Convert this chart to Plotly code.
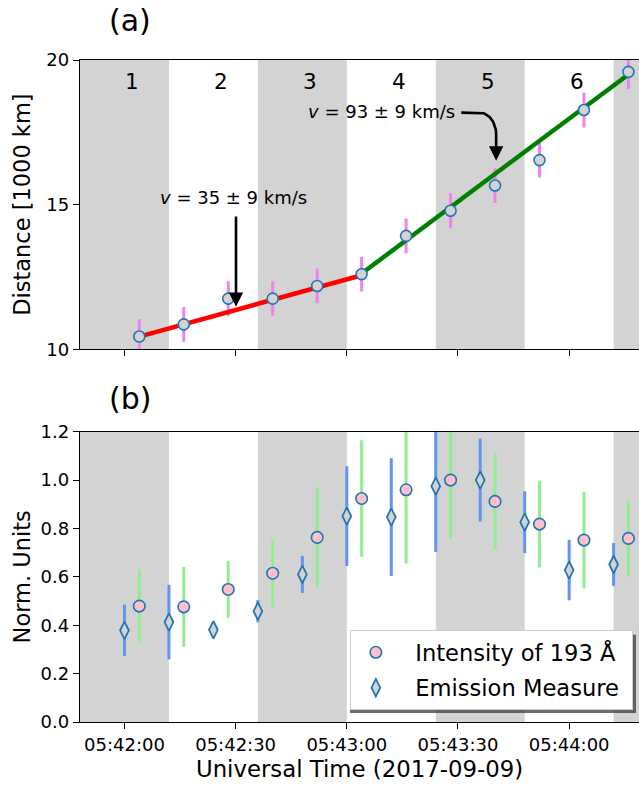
import numpy as np
import pandas as pd
import plotly.graph_objects as go
from plotly.subplots import make_subplots

# ---------------- DATA ----------------
t0 = pd.Timestamp("2017-09-09 05:42:00")

# panel (a): distance measurements (seconds after 05:42:00)
dist_sec = [4, 16, 28, 40, 52, 64, 76, 88, 100, 112, 124, 136]
distance = [10.44, 10.86, 11.75, 11.75, 12.19, 12.60, 13.92, 14.79, 15.66, 16.54, 18.27, 19.59]
dist_err = [0.6, 0.6, 0.6, 0.6, 0.6, 0.6, 0.6, 0.6, 0.6, 0.6, 0.6, 0.6]

# linear fits
red_sec = [4, 64]
red_dist = [10.44, 12.56]
green_sec = [64, 136]
green_dist = [12.62, 19.50]

# panel (b): intensity of 193 A
int_sec = [4, 16, 28, 40, 52, 64, 76, 88, 100, 112, 124, 136]
intensity = [0.479, 0.476, 0.548, 0.615, 0.763, 0.924, 0.960, 1.000, 0.912, 0.818, 0.752, 0.759]
int_err = [0.152, 0.165, 0.117, 0.141, 0.207, 0.241, 0.305, 0.241, 0.199, 0.179, 0.200, 0.156]

# panel (b): emission measure
em_sec = [0, 12, 24, 36, 48, 60, 72, 84, 96, 108, 120, 132]
emission = [0.379, 0.413, 0.381, 0.458, 0.610, 0.851, 0.847, 0.975, 1.000, 0.826, 0.628, 0.651]
em_err = [0.106, 0.154, 0.030, 0.046, 0.077, 0.206, 0.243, 0.272, 0.172, 0.128, 0.125, 0.089]

# shaded time bins (seconds after 05:42:00) and labels
band_edges = [-12, 12, 36, 60, 84, 108, 132, 156]
band_labels = ["1", "2", "3", "4", "5", "6"]
band_label_sec = [2, 26, 50, 74, 98, 122]

x_range_sec = [-12, 138.85]
xtick_sec = [0, 30, 60, 90, 120]


def T(s):
    return (t0 + pd.to_timedelta(np.asarray(s, dtype=float), unit="s")).strftime("%Y-%m-%d %H:%M:%S.%f")


def T1(s):
    return (t0 + pd.to_timedelta(float(s), unit="s")).strftime("%Y-%m-%d %H:%M:%S.%f")


FONT = "DejaVu Sans"
BLUE = "#1f77b4"
NB = "\u00a0\u00a0"

fig = make_subplots(rows=2, cols=1, shared_xaxes=False, vertical_spacing=0.0)

# ---- panel (a)
fig.add_trace(go.Scatter(
    x=T(dist_sec), y=distance, mode="markers",
    marker=dict(size=11, opacity=0),
    error_y=dict(type="data", array=dist_err, color="violet", thickness=3, width=0),
    showlegend=False, hoverinfo="skip"), row=1, col=1)
fig.add_trace(go.Scatter(x=T(red_sec), y=red_dist, mode="lines",
                         line=dict(color="red", width=4.5), showlegend=False), row=1, col=1)
fig.add_trace(go.Scatter(x=T(green_sec), y=green_dist, mode="lines",
                         line=dict(color="green", width=4.5), showlegend=False), row=1, col=1)
fig.add_trace(go.Scatter(
    x=T(dist_sec), y=distance, mode="markers",
    marker=dict(size=11, color="lightgray", line=dict(color=BLUE, width=1.6)),
    showlegend=False), row=1, col=1)

# curved arrow connector for v = 93 km/s (drawn in data units)
sx, sy = 90.9, 18.18   # start (after text)
cx, cy = 100.3, 16.95  # end of curve (vertical part)
rx, ry = 4.5, 0.75
th = np.linspace(0, np.pi / 2, 20)
arc_x = list(cx - rx + rx * np.sin(th))
arc_y = list(sy - ry + ry * np.cos(th))
conn_x = [sx] + arc_x + [cx]
conn_y = [sy] + arc_y + [cy]
fig.add_trace(go.Scatter(x=T(conn_x), y=conn_y, mode="lines",
                         line=dict(color="black", width=2.6), showlegend=False,
                         hoverinfo="skip"), row=1, col=1)

# ---- panel (b)
fig.add_trace(go.Scatter(
    x=T(em_sec), y=emission, mode="markers", name=NB + "Emission Measure\u00a0",
    marker=dict(symbol="diamond-tall", size=12.5, color="lightgray", line=dict(color=BLUE, width=1.8)),
    error_y=dict(type="data", array=em_err, color="cornflowerblue", thickness=3, width=0),
    legendrank=2, legendgroup="em"), row=2, col=1)
fig.add_trace(go.Scatter(
    x=T(int_sec), y=intensity, mode="markers", name=NB + "Intensity of 193 Å",
    marker=dict(symbol="circle", size=11.5, color="pink", line=dict(color=BLUE, width=1.6)),
    error_y=dict(type="data", array=int_err, color="lightgreen", thickness=3, width=0),
    legendrank=1, legendgroup="int"), row=2, col=1)

# shaded bands
shapes = []
for i in range(0, len(band_edges) - 1, 2):
    for yref in ["y", "y2"]:
        shapes.append(dict(type="rect", xref="x" if yref == "y" else "x2", yref=yref + " domain",
                           x0=T1(band_edges[i]), x1=T1(band_edges[i + 1]), y0=0, y1=1,
                           fillcolor="lightgray", line=dict(width=0), layer="below"))

# legend shadow
shapes.append(dict(type="rect", xref="paper", yref="paper",
                   x0=0.483, x1=0.9946, y0=0.0136, y1=0.1319,
                   fillcolor="rgba(60,60,60,0.75)", line=dict(width=0), layer="above"))

annotations = []
for lab, s in zip(band_labels, band_label_sec):
    annotations.append(dict(x=T1(s), y=19.27, xref="x", yref="y", text=lab, showarrow=False,
                            font=dict(family=FONT, size=21.5, color="black")))

annotations.append(dict(x=T1(29.4), y=15.23, xref="x", yref="y",
                        text="<i>v</i> = 35 ± 9 km/s", showarrow=False,
                        font=dict(family=FONT, size=18, color="black")))
annotations.append(dict(x=T1(30.1), y=11.47, xref="x", yref="y", ax=T1(30.1), ay=14.64,
                        axref="x", ayref="y", text="", showarrow=True, arrowhead=2,
                        arrowsize=1.1, arrowwidth=2.6, arrowcolor="black", standoff=0, startstandoff=0))
annotations.append(dict(x=T1(69.4), y=18.21, xref="x", yref="y",
                        text="<i>v</i> = 93 ± 9 km/s", showarrow=False,
                        font=dict(family=FONT, size=18, color="black")))
annotations.append(dict(x=T1(100.3), y=16.52, xref="x", yref="y", ax=T1(100.3), ay=17.0,
                        axref="x", ayref="y", text="", showarrow=True, arrowhead=2,
                        arrowsize=1.1, arrowwidth=2.6, arrowcolor="black", standoff=0, startstandoff=0))

annotations.append(dict(x=0.0894, y=1.0604, xref="paper", yref="paper", text="(a)", showarrow=False,
                        xanchor="center", yanchor="middle", font=dict(family=FONT, size=30, color="black")))
annotations.append(dict(x=0.0894, y=0.4894, xref="paper", yref="paper", text="(b)", showarrow=False,
                        xanchor="center", yanchor="middle", font=dict(family=FONT, size=30, color="black")))

axis_common = dict(showline=True, linecolor="black", linewidth=1.3, ticks="outside",
                   ticklen=6, tickwidth=1.3, tickcolor="black", showgrid=False, zeroline=False,
                   automargin=False,
                   tickfont=dict(family=FONT, size=18, color="black"))

fig.update_xaxes(type="date", range=[T1(x_range_sec[0]), T1(x_range_sec[1])],
                 tickvals=list(T(xtick_sec)), tickformat="%H:%M:%S", mirror=True, **axis_common)
fig.update_xaxes(showticklabels=False, row=1, col=1)
fig.update_xaxes(title=dict(text="Universal Time (2017-09-09)", font=dict(family=FONT, size=22.8, color="black"),
                            standoff=7), row=2, col=1)

fig.update_yaxes(**axis_common)
fig.update_yaxes(range=[10, 20], tickvals=[10, 15, 20], domain=[0.563, 1.0],
                 title=dict(text="Distance [1000 km]", font=dict(family=FONT, size=22.5, color="black"), standoff=9),
                 row=1, col=1)
fig.update_yaxes(range=[0, 1.2], tickvals=[0, 0.2, 0.4, 0.6, 0.8, 1.0, 1.2], tickformat=".1f",
                 domain=[0.0, 0.4385],
                 title=dict(text="Norm. Units", font=dict(family=FONT, size=22.5, color="black"), standoff=3),
                 row=2, col=1)

fig.update_layout(
    template="none",
    width=639, height=786,
    margin=dict(l=80, r=0, t=60, b=64, autoexpand=False),
    paper_bgcolor="white", plot_bgcolor="white",
    font=dict(family=FONT, color="black"),
    shapes=shapes, annotations=annotations,
    showlegend=True,
    legend=dict(x=0.989, y=0.018, xanchor="right", yanchor="bottom",
                bgcolor="white", bordercolor="#cccccc", borderwidth=1,
                font=dict(family=FONT, size=22.6, color="black"),
                itemwidth=40, tracegroupgap=3, traceorder="grouped"),
)

fig.write_html("out.html", config={"displayModeBar": False},
               post_script="document.body.style.margin='0px';document.body.style.padding='0px';")
